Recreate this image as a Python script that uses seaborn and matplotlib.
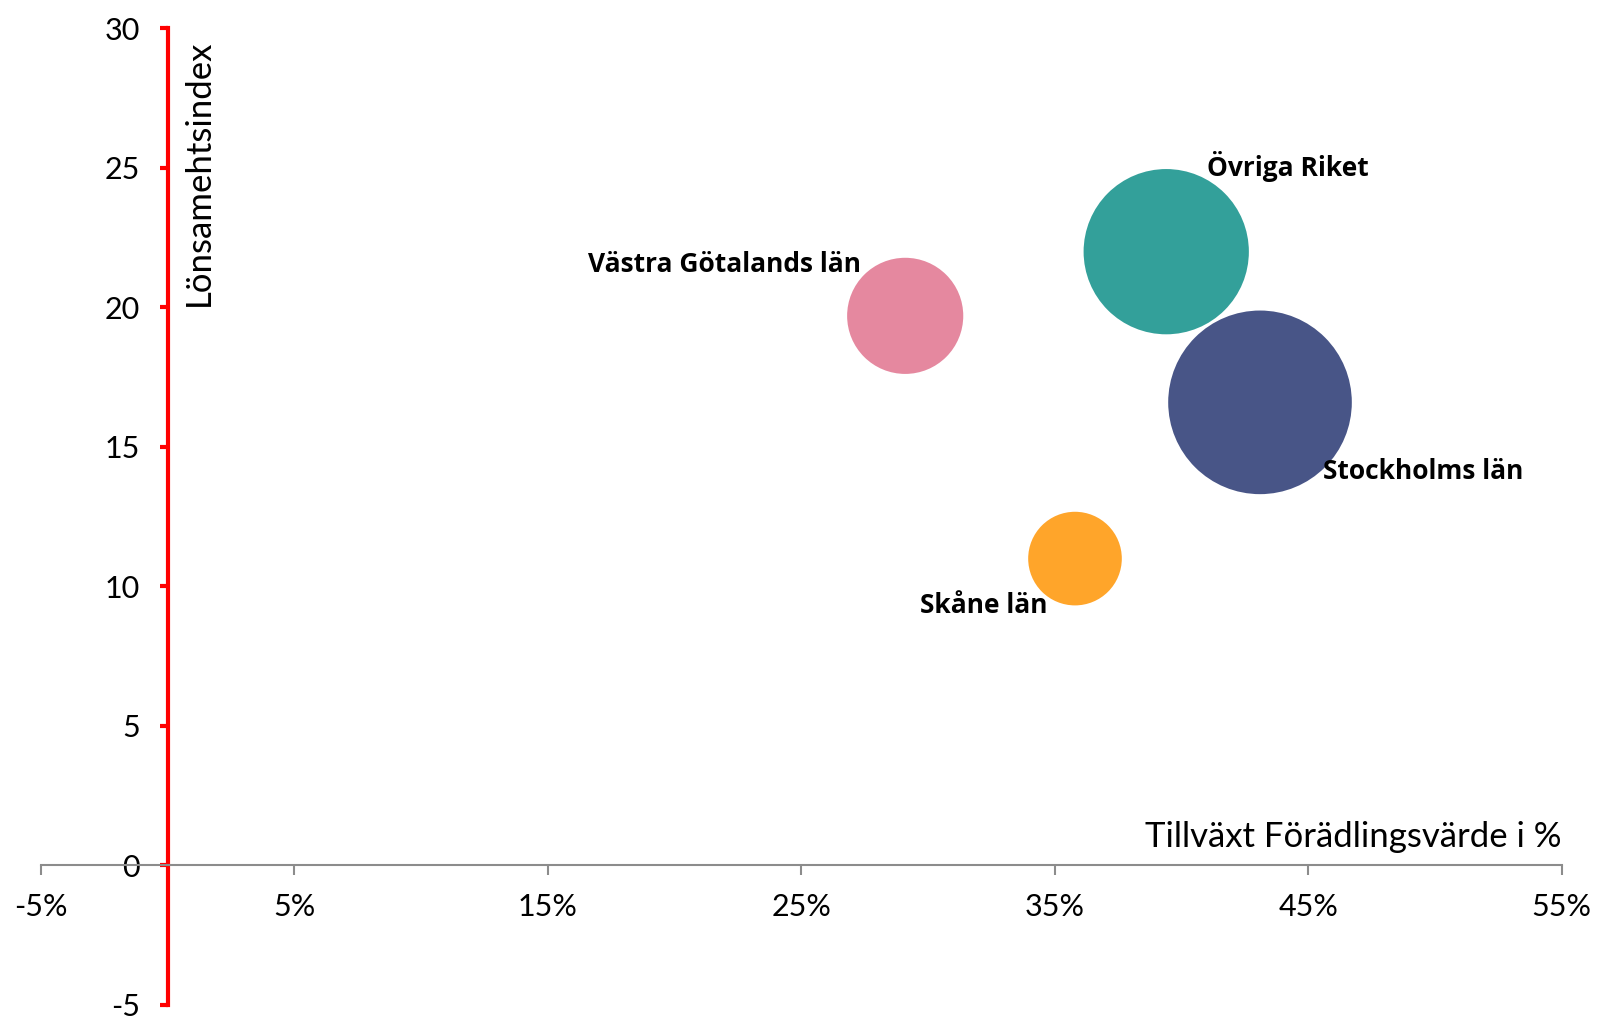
import matplotlib
matplotlib.use("Agg")
import matplotlib.pyplot as plt
import seaborn as sns
import pandas as pd
import numpy as np

# bubble data
regions = ["Västra Götalands län", "Övriga Riket", "Stockholms län", "Skåne län"]
growth = [29.1, 39.4, 43.1, 35.8]          # Tillväxt Förädlingsvärde i %
profit = [19.7, 22.0, 16.6, 11.0]          # Lönsamehtsindex
bubble = [40, 81, 100, 26]                 # relative bubble size (area)
colors = ["#E5889F", "#33A09A", "#485587", "#FFA52A"]

x_ticks = [-5, 5, 15, 25, 35, 45, 55]
y_ticks = [-5, 0, 5, 10, 15, 20, 25, 30]

# label offsets in points (dx, dy, ha)
label_pos = {"Västra Götalands län": (-32, 37, "right"),
             "Övriga Riket": (29, 61, "left"),
             "Stockholms län": (45, -50, "left"),
             "Skåne län": (-20, -34, "right")}

df = pd.DataFrame({"region": regions, "growth": growth, "profit": profit, "size": bubble})

sns.set_theme(style="white")
plt.rcParams["font.family"] = ["Lato", "DejaVu Sans"]
plt.rcParams["axes.unicode_minus"] = False
plt.rcParams["text.color"] = "black"

fig, ax = plt.subplots(figsize=(16, 10.17), dpi=100)
fig.subplots_adjust(left=0.0256, right=0.976, bottom=0.0118, top=0.972)

# biggest bubble: radius ~66 pt -> s ~ 17480 pt^2, area proportional to size
sns.scatterplot(data=df, x="growth", y="profit", hue="region", size="size",
                palette=dict(zip(regions, colors)), sizes=(0, 17480), size_norm=(0, 100),
                linewidth=0, alpha=1, legend=False, ax=ax)

for r, gx, py in zip(regions, growth, profit):
    dx, dy, ha = label_pos[r]
    ax.annotate(r, (gx, py), xytext=(dx, dy), textcoords="offset points",
                ha=ha, va="center", fontsize=19, fontweight="bold",
                family=["Open Sans", "DejaVu Sans"], color="black")

ax.set_xlim(-5, 55)
ax.set_ylim(-5, 30)
ax.set_xticks(x_ticks)
ax.set_xticklabels([f"{t}%" for t in x_ticks])
ax.set_yticks(y_ticks)

for s in ["top", "right"]:
    ax.spines[s].set_visible(False)
ax.spines["left"].set_position(("data", 0))
ax.spines["left"].set_color("red")
ax.spines["left"].set_linewidth(3)
ax.spines["bottom"].set_position(("data", 0))
ax.spines["bottom"].set_color("#8c8c8c")
ax.spines["bottom"].set_linewidth(1.5)

ax.tick_params(axis="y", which="major", left=True, direction="out", length=6, width=3,
               color="red", labelsize=22, pad=14, labelcolor="black")
ax.tick_params(axis="x", which="major", bottom=True, direction="out", length=7, width=1.5,
               color="#8c8c8c", labelsize=22, pad=13, labelcolor="black")

ax.set_xlabel("")
ax.set_ylabel("")
ax.text(55, 0.45, "Tillväxt Förädlingsvärde i %", ha="right", va="bottom",
        fontsize=25, color="black")
ax.text(0.6, 29.6, "Lönsamehtsindex", rotation=90, ha="left", va="top",
        fontsize=25, color="black")

ax.grid(False)
fig.savefig("out.png", dpi=100)
